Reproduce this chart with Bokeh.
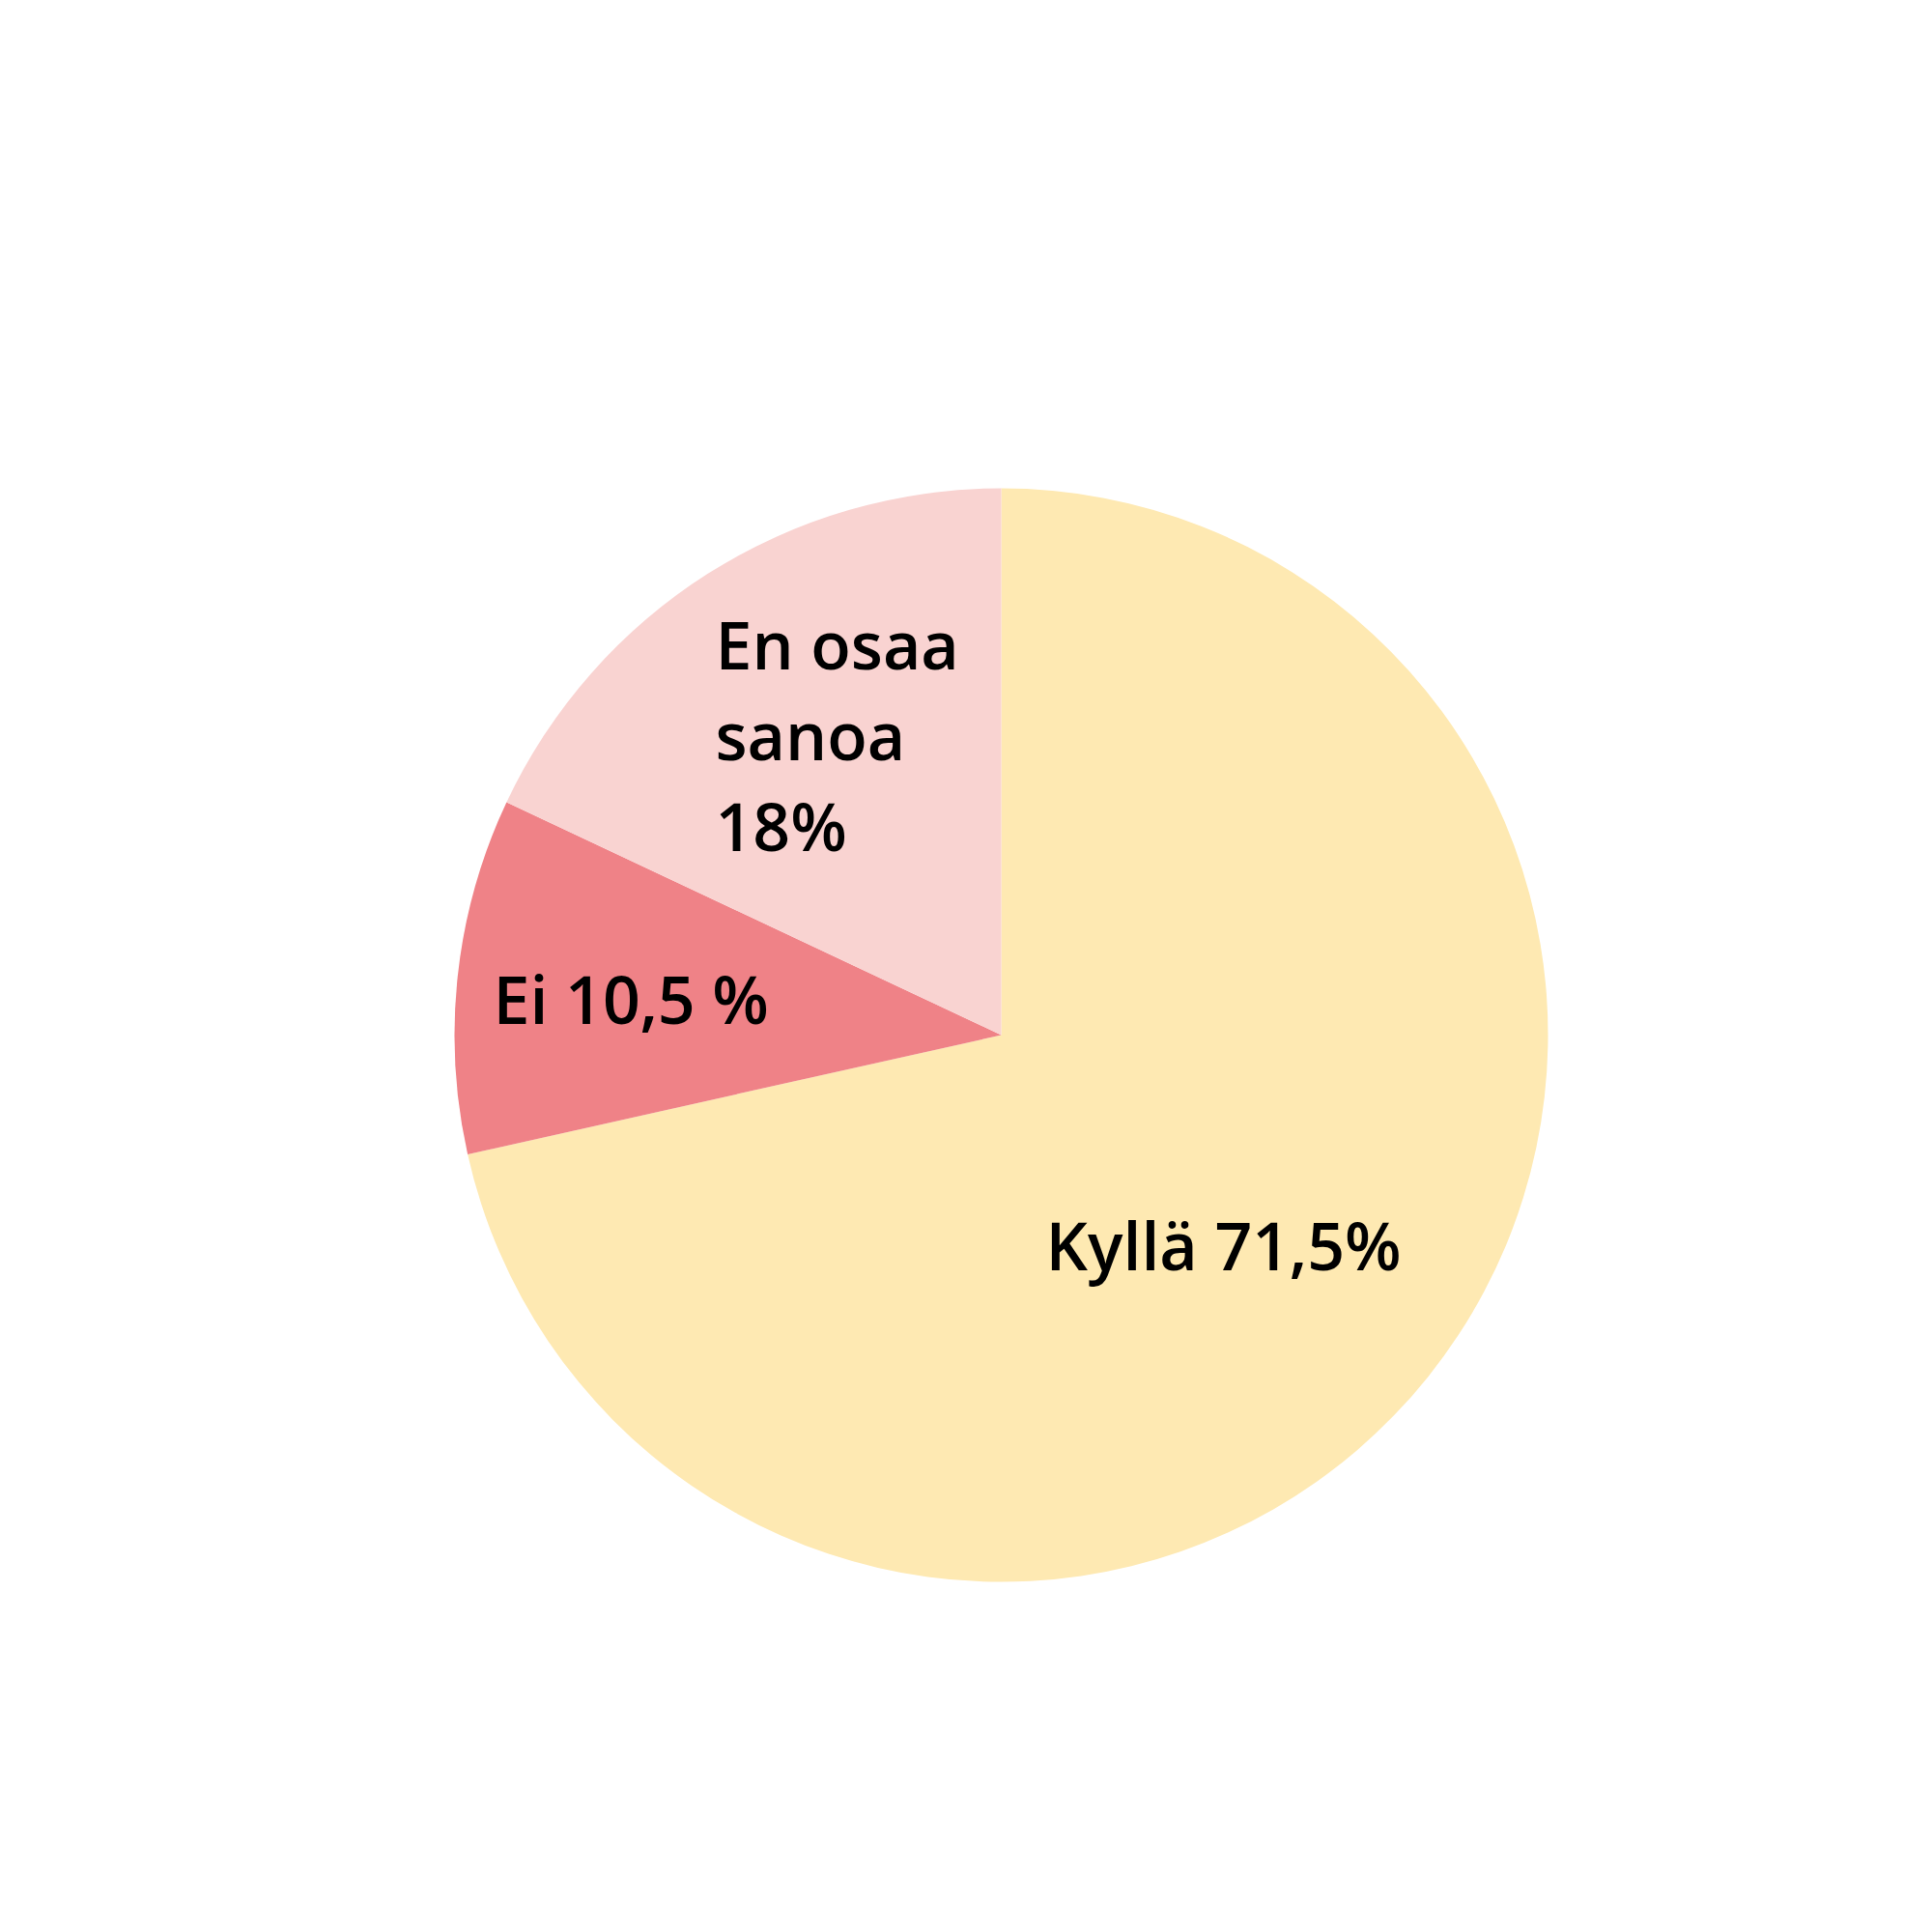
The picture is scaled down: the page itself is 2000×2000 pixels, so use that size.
from math import pi
from bokeh.plotting import figure
from bokeh.models import Range1d, ColumnDataSource
from bokeh.core.properties import value
from bokeh.embed import file_html
from bokeh.resources import INLINE

# Data
categories = ["Kyllä", "Ei", "En osaa sanoa"]
shares = [71.5, 10.5, 18.0]
labels = ["Kyllä 71,5%", "Ei 10,5 %", "En osaa\nsanoa\n18%"]
colors = ["#FEE9B2", "#EF8287", "#F9D3D1"]

W = H = 1984
p = figure(width=W, height=H, output_backend="svg", toolbar_location=None,
           x_range=Range1d(0, W), y_range=Range1d(2000 - H, 2000),
           min_border=0, outline_line_color=None, background_fill_color="white")
p.axis.visible = False
p.grid.visible = False

cx, cy, r = 1036, 2000 - 1071, 566

# angles clockwise from top
starts, ends = [], []
a = pi / 2
total = sum(shares)
for s in shares:
    ang = s / total * 2 * pi
    starts.append(a)
    ends.append(a - ang)
    a -= ang

src = ColumnDataSource(dict(start=starts, end=ends, color=colors, cat=categories))
p.wedge(x=cx, y=cy, radius=r, start_angle="start", end_angle="end", direction="clock",
        fill_color="color", line_color=None, source=src)

# label anchor positions (left, first baseline; pixel coords from top)
anchors = [(1082, 1288), (510, 1033), (740, 666)]
line_gap = 94
xs, ys, ts = [], [], []
for lab, (lx, ly) in zip(labels, anchors):
    for i, line in enumerate(lab.split("\n")):
        xs.append(lx)
        ys.append(2000 - (ly + i * line_gap))
        ts.append(line)

p.text(x=xs, y=ys, text=ts, text_font=value("Open Sans SemiBold"), text_font_size="68px",
       text_align="left", text_baseline="alphabetic", text_color="#000000")

open("out.html", "w").write(file_html(p, INLINE))
